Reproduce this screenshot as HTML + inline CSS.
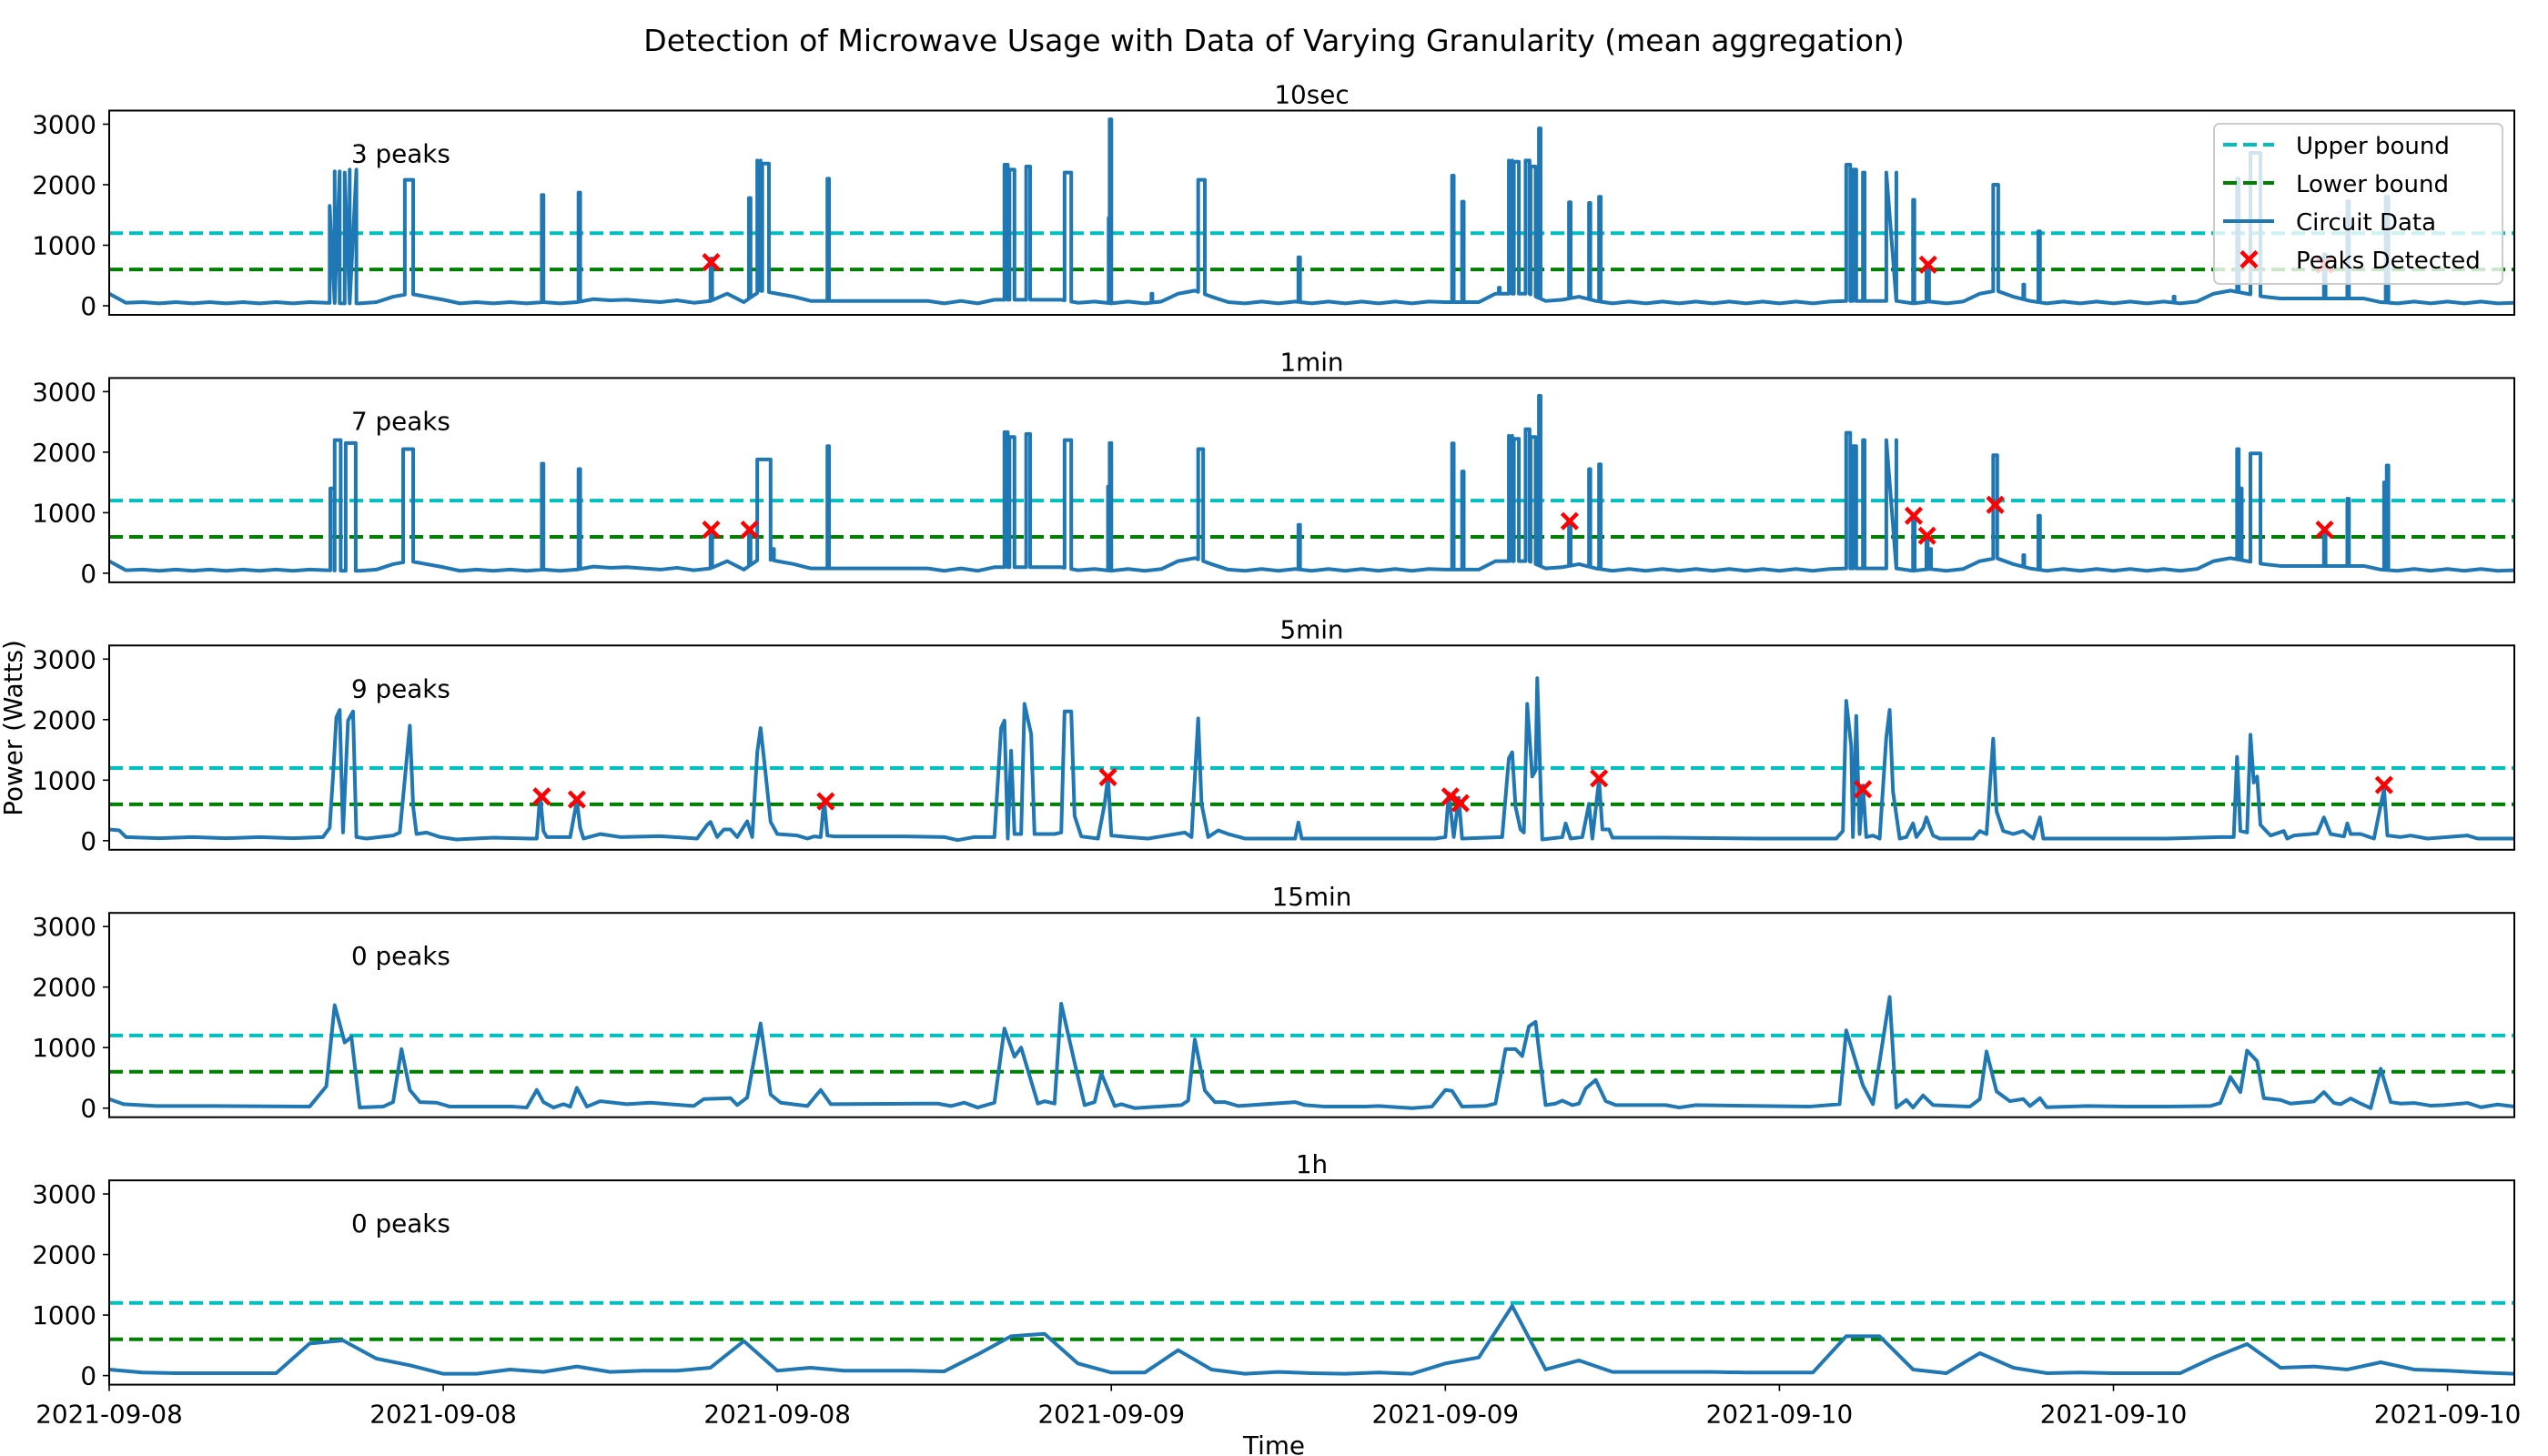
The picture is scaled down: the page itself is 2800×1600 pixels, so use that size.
<!DOCTYPE html>
<html><head><meta charset="utf-8"><style>
html,body{margin:0;padding:0;background:#fff;}
svg{display:block;font-family:"DejaVu Sans","Liberation Sans",sans-serif;}
</style></head><body>
<svg id="chart" xmlns="http://www.w3.org/2000/svg" width="2800" height="1600" viewBox="0 0 2800 1600">
<rect width="2800" height="1600" fill="#fff"/>
<text x="1400" y="56" font-size="33" text-anchor="middle">Detection of Microwave Usage with Data of Varying Granularity (mean aggregation)</text>
<text x="0" y="0" font-size="27.8" text-anchor="middle" transform="translate(24,800) rotate(-90)">Power (Watts)</text>
<text x="1400" y="1598" font-size="27.8" text-anchor="middle">Time</text>
<g id="panels"></g>
</svg>
<script>
// ---- data (time in hours from 2021-09-08 00:00, power in watts) ----
const panelTitles = ["10sec","1min","5min","15min","1h"];
const peakCounts = ["3 peaks","7 peaks","9 peaks","0 peaks","0 peaks"];
const yTicks = [0,1000,2000,3000];
const xTickHours = [0,10,20,30,40,50,60,70];
const xTickLabels = ["2021-09-08","2021-09-08","2021-09-08","2021-09-09","2021-09-09","2021-09-10","2021-09-10","2021-09-10"];
const upperBound = 1200;
const lowerBound = 600;

// baseline for fine-grained panels, sampled every 0.5 h
const baseVals = [200,50,60,40,60,40,60,40,60,40,60,40,60,50,40,40,60,150,200,150,100,40,60,40,60,40,60,40,60,110,90,100,80,60,90,50,80,200,60,250,200,150,80,80,80,80,80,80,80,80,40,80,40,100,100,100,100,100,50,70,40,70,40,70,200,250,150,60,40,70,40,70,40,70,40,70,40,70,40,70,60,60,60,200,200,200,80,100,150,80,40,70,40,70,40,70,40,70,40,70,40,70,40,70,80,80,80,80,40,70,40,70,200,250,150,80,40,70,40,70,40,70,40,70,40,70,200,250,200,150,120,120,120,120,120,120,60,40,70,40,70,40,70,40,50];

// 10sec pulses: start hour, duration hours, height watts
const p1Start = [6.6,6.75,7.05,7.2,8.85,12.95,14.05,18.0,19.15,19.4,19.55,21.5,26.8,26.95,27.45,28.6,29.92,29.95,31.2,32.6,35.6,40.2,40.5,41.6,41.9,42.05,42.4,42.55,42.8,43.7,44.3,44.6,52.0,52.2,52.5,53.2,54.0,54.4,56.4,57.3,57.75,61.8,63.7,64.1,66.3,67.0,68.15];
const p1Dur = [0.15,0.15,0.15,0.2,0.25,0.05,0.05,0.05,0.05,0.1,0.2,0.05,0.1,0.15,0.12,0.2,0.03,0.05,0.03,0.2,0.05,0.05,0.05,0.03,0.1,0.15,0.12,0.15,0.05,0.05,0.04,0.05,0.12,0.1,0.05,0.3,0.04,0.08,0.15,0.03,0.05,0.03,0.05,0.3,0.05,0.05,0.08];
const p1Val = [1650,2220,2200,2250,2080,1830,1870,780,1780,2400,2350,2100,2330,2250,2300,2200,1450,3080,200,2080,800,2150,1720,300,2400,2380,2400,2300,2930,1710,1700,1800,2330,2250,2200,2200,1750,700,2000,350,1230,150,2100,2525,850,1725,1800];
const p1PeakT = [18.02,54.45,66.32];
const p1PeakV = [720,680,680];

// 1min pulses
const p2Start = [6.62,6.75,7.08,8.8,12.95,14.05,18.0,19.15,19.4,19.8,21.5,26.8,26.95,27.45,28.6,29.9,29.95,32.6,35.6,40.2,40.5,41.9,42.05,42.4,42.55,42.8,43.7,44.3,44.6,52.0,52.2,52.5,53.2,54.0,54.4,54.5,56.4,57.3,57.75,63.7,63.8,64.1,66.3,67.0,68.1,68.18];
const p2Dur = [0.12,0.18,0.3,0.3,0.05,0.05,0.05,0.05,0.4,0.1,0.05,0.1,0.15,0.12,0.2,0.03,0.05,0.15,0.05,0.05,0.05,0.1,0.15,0.12,0.15,0.05,0.05,0.04,0.05,0.12,0.1,0.05,0.3,0.05,0.04,0.04,0.12,0.03,0.05,0.05,0.04,0.3,0.05,0.05,0.04,0.05];
const p2Val = [1400,2200,2150,2050,1810,1720,710,720,1880,400,2100,2330,2250,2300,2200,1430,2150,2050,800,2145,1680,2270,2220,2380,2250,2930,860,1720,1800,2320,2100,2200,2200,950,620,400,1950,300,950,2050,1400,1980,720,1230,1500,1780];
const p2PeakT = [18.02,19.17,43.72,54.02,54.42,56.46,66.32];
const p2PeakV = [720,720,860,950,620,1130,720];

// 5min series
const p3T = [0,0.3,0.5,1.5,2.5,3.5,4.5,5.5,6.4,6.6,6.7,6.8,6.9,7.0,7.15,7.3,7.4,7.7,8.5,8.7,9.0,9.1,9.2,9.5,9.9,10.4,11.5,12.6,12.8,12.9,13.0,13.1,13.8,14.0,14.1,14.2,14.7,15.3,16.5,17.6,17.9,18.0,18.2,18.4,18.6,18.8,19.1,19.25,19.4,19.5,19.65,19.8,20.0,20.6,20.9,21.1,21.3,21.4,21.5,21.7,23.8,25.0,25.4,25.9,26.5,26.7,26.8,26.9,27.0,27.1,27.3,27.4,27.6,27.7,28.3,28.5,28.6,28.8,28.9,29.1,29.6,29.8,29.9,30.0,30.5,31.1,32.2,32.4,32.6,32.7,32.9,33.2,33.5,34.0,35.5,35.6,35.7,36.8,39.7,40.0,40.1,40.25,40.4,40.5,41.7,41.9,42.0,42.1,42.25,42.35,42.45,42.6,42.7,42.75,42.9,43.5,43.6,43.75,44.1,44.3,44.4,44.6,44.7,44.9,45.0,46.6,49.5,51.7,51.9,52.0,52.15,52.2,52.3,52.4,52.5,52.6,52.8,53.0,53.2,53.3,53.4,53.6,53.8,54.0,54.1,54.3,54.4,54.6,54.8,55.8,56.0,56.2,56.4,56.5,56.7,57.0,57.3,57.6,57.8,57.9,59.2,61.6,63.2,63.6,63.7,63.8,64.0,64.1,64.2,64.3,64.4,64.7,65.1,65.2,65.4,66.1,66.3,66.5,66.9,67.0,67.1,67.4,67.8,68.1,68.2,68.6,68.9,69.4,70.6,70.9,72.0];
const p3V = [185,170,60,40,60,40,60,40,60,210,1060,2035,2160,135,1985,2135,60,35,85,135,1900,560,110,135,60,20,50,35,35,760,160,60,60,660,210,35,110,60,75,35,260,310,60,185,185,60,320,60,1460,1860,1110,310,110,85,35,70,60,685,85,70,70,60,10,60,60,1860,1985,35,1485,110,110,2260,1760,110,110,135,2135,2135,410,70,35,610,1060,85,60,35,135,60,2020,610,60,170,110,35,35,300,35,35,35,60,785,60,710,35,60,1360,1460,560,185,135,2260,1060,1160,2685,20,60,285,35,60,610,35,1010,185,185,50,50,35,35,160,2310,1560,60,2060,110,910,60,85,35,1710,2160,810,35,60,285,60,210,385,85,35,35,160,110,1685,485,160,110,160,35,385,35,35,35,60,60,1385,160,135,1750,960,1060,260,85,160,35,85,120,385,110,70,285,110,110,35,860,85,60,85,35,85,35,35];
const p3PeakT = [12.95,14.0,21.45,29.9,40.15,40.45,44.6,52.5,68.1];
const p3PeakV = [730,680,650,1050,730,620,1030,850,920];

// 15min series
const p4T = [0,0.43,1.4,3.1,6.0,6.5,6.75,7.05,7.25,7.5,8.2,8.5,8.75,9.0,9.3,9.8,10.2,12.1,12.5,12.8,13.0,13.3,13.6,13.8,14.0,14.3,14.7,15.5,16.2,17.5,17.8,18.6,18.8,19.1,19.5,19.8,20.1,20.9,21.3,21.6,24.8,25.2,25.6,26.0,26.5,26.8,27.1,27.3,27.8,28.0,28.3,28.5,28.9,29.2,29.5,29.7,30.1,30.3,30.7,32.1,32.3,32.5,32.8,33.1,33.4,33.8,35.5,35.8,36.4,37.6,38.0,39.0,39.6,40.0,40.2,40.5,41.2,41.5,41.8,42.1,42.3,42.5,42.7,43.0,43.3,43.5,43.8,44.0,44.2,44.5,44.8,45.1,46.6,47.0,47.5,49.5,50.9,51.8,52.0,52.5,52.8,53.3,53.5,53.8,54.0,54.3,54.6,55.7,56.0,56.2,56.5,56.9,57.3,57.5,57.8,58.0,59.2,60.4,61.6,62.9,63.2,63.5,63.8,64.0,64.3,64.5,65.0,65.3,66.0,66.3,66.6,66.8,67.1,67.4,67.7,68.0,68.3,68.6,69.0,69.5,69.9,70.6,71.0,71.5,72.0];
const p4V = [150,65,35,35,25,360,1700,1085,1175,10,25,100,975,300,100,90,25,25,10,300,100,10,65,25,335,25,115,65,90,35,150,165,50,175,1400,225,90,35,300,65,75,35,90,10,90,1315,850,1000,75,115,75,1725,750,50,100,575,35,65,0,50,125,1135,290,100,100,35,100,50,25,25,35,0,25,300,285,25,35,75,975,975,860,1350,1425,50,75,125,50,75,325,465,115,50,50,10,50,35,25,65,1285,375,65,1835,10,135,10,210,50,25,150,935,275,115,150,35,165,15,35,25,25,35,85,515,265,950,775,165,135,75,110,265,85,65,160,75,0,650,100,75,85,40,50,85,15,60,25];

// 1h series (hourly, hours 0..72)
const p5V = [100,50,40,40,40,40,530,580,280,170,30,30,100,60,150,60,80,80,130,570,80,130,80,80,80,70,350,650,690,200,50,50,420,100,30,60,40,30,50,30,200,300,1150,100,250,60,60,60,60,50,50,50,650,650,100,40,370,130,40,50,40,40,40,300,520,130,150,100,220,100,80,50,30];

// ---- layout ----
const X0 = 120, X1 = 2763, XMAX = 72;
const panelTop0 = 121.5, panelStep = 293.9, panelH = 224.5;
const YMIN = -150, YMAX = 3225;
const BLUE = "#1f77b4";
const NS = "http://www.w3.org/2000/svg";
const xs = h => X0 + (h / XMAX) * (X1 - X0);
function ysFor(top){ return v => top + panelH - (v - YMIN) / (YMAX - YMIN) * panelH; }
function mk(tag, attrs, parent){
  const e = document.createElementNS(NS, tag);
  for (const k in attrs) e.setAttribute(k, attrs[k]);
  if (parent) parent.appendChild(e);
  return e;
}
function baseAt(t){
  const i = Math.min(Math.floor(t / 0.5), baseVals.length - 2);
  const f = t / 0.5 - i;
  return baseVals[i] * (1 - f) + baseVals[i + 1] * f;
}
function pulseSeries(starts, durs, vals){
  const pts = [];
  for (let i = 0; i < baseVals.length; i++) {
    const t = i * 0.5;
    let inside = false;
    for (let j = 0; j < starts.length; j++) if (t > starts[j] && t < starts[j] + durs[j]) inside = true;
    if (!inside) pts.push({t: t, v: baseVals[i], o: 0});
  }
  for (let j = 0; j < starts.length; j++) {
    const a = starts[j], b = starts[j] + durs[j];
    pts.push({t: a, v: baseAt(a), o: 1}, {t: a, v: vals[j], o: 2}, {t: b, v: vals[j], o: 3}, {t: b, v: baseAt(b), o: 4});
  }
  pts.sort((p, q) => p.t - q.t || p.o - q.o);
  return pts;
}
function seriesFrom(ts, vs){ return ts.map((t, i) => ({t: t, v: vs[i]})); }

const root = document.getElementById("panels");
const hourT = p5V.map((_, i) => i);
const seriesList = [
  pulseSeries(p1Start, p1Dur, p1Val),
  pulseSeries(p2Start, p2Dur, p2Val),
  seriesFrom(p3T, p3V),
  seriesFrom(p4T, p4V),
  seriesFrom(hourT, p5V)
];
const peakList = [[p1PeakT, p1PeakV], [p2PeakT, p2PeakV], [p3PeakT, p3PeakV], [[], []], [[], []]];

for (let k = 0; k < 5; k++) {
  const top = panelTop0 + k * panelStep, bot = top + panelH;
  const ys = ysFor(top);
  const g = mk("g", {}, root);
  
  
  const cp = mk("clipPath", {id: "clip" + k}, g);
  mk("rect", {x: X0, y: top, width: X1 - X0, height: panelH}, cp);

  const title = mk("text", {x: (X0 + X1) / 2, y: top - 8, "font-size": 27.8, "text-anchor": "middle"}, g);
  title.textContent = panelTitles[k];
  
  

  yTicks.forEach(v => {
    const y = ys(v);
    const tk = mk("line", {x1: X0 - 7, x2: X0, y1: y, y2: y, stroke: "#000", "stroke-width": 1.6}, g);
    
    
    const lb = mk("text", {x: X0 - 14, y: y + 10, "font-size": 27.8, "text-anchor": "end"}, g);
    lb.textContent = String(v);
    
    
  });

  const clipG = mk("g", {"clip-path": "url(#clip" + k + ")"}, g);
  const ub = mk("line", {x1: X0, x2: X1, y1: ys(upperBound), y2: ys(upperBound), stroke: "#00bfbf", "stroke-width": 4, "stroke-dasharray": "15,7"}, clipG);
  
  
  const lbnd = mk("line", {x1: X0, x2: X1, y1: ys(lowerBound), y2: ys(lowerBound), stroke: "#008000", "stroke-width": 4, "stroke-dasharray": "15,7"}, clipG);
  
  

  const s = seriesList[k];
  const d = s.map((p, i) => (i ? "L" : "M") + xs(p.t).toFixed(2) + "," + ys(p.v).toFixed(2)).join("");
  const path = mk("path", {d: d, fill: "none", stroke: BLUE, "stroke-width": 4, "stroke-linejoin": "round"}, clipG);
  
  

  const [pt, pv] = peakList[k];
  pt.forEach((t, i) => {
    const cx = xs(t), cy = ys(pv[i]), r = 8.5;
    const m = mk("path", {d: `M${cx - r},${cy - r}L${cx + r},${cy + r}M${cx - r},${cy + r}L${cx + r},${cy - r}`, stroke: "#ff0000", "stroke-width": 4.5}, g);
    
    
  });

  const pk = mk("text", {x: 386, y: top + 57, "font-size": 27.8}, g);
  pk.textContent = peakCounts[k];
  
  

  const frame = mk("rect", {x: X0, y: top, width: X1 - X0, height: panelH, fill: "none", stroke: "#000", "stroke-width": 2}, g);
  
  

  if (k === 4) {
    xTickHours.forEach((h, i) => {
      const x = xs(h);
      const tk = mk("line", {x1: x, x2: x, y1: bot, y2: bot + 7, stroke: "#000", "stroke-width": 1.6}, g);
      
      
      const lb = mk("text", {x: x, y: bot + 42, "font-size": 27.8, "text-anchor": "middle"}, g);
      lb.textContent = xTickLabels[i];
      
      
    });
  }
}

// legend
const lg = mk("g", {}, root);


mk("rect", {x: 2433, y: 136, width: 317, height: 176, rx: 6, fill: "#fff", "fill-opacity": 0.8, stroke: "#cccccc", "stroke-width": 2}, lg);
const legendLabels = ["Upper bound", "Lower bound", "Circuit Data", "Peaks Detected"];
legendLabels.forEach((lbl, i) => {
  const y = 159 + i * 42;
  let sw;
  if (i === 0) sw = mk("line", {x1: 2443, x2: 2499, y1: y, y2: y, stroke: "#00bfbf", "stroke-width": 4, "stroke-dasharray": "15,7"}, lg);
  else if (i === 1) sw = mk("line", {x1: 2443, x2: 2499, y1: y, y2: y, stroke: "#008000", "stroke-width": 4, "stroke-dasharray": "15,7"}, lg);
  else if (i === 2) sw = mk("line", {x1: 2443, x2: 2499, y1: y, y2: y, stroke: BLUE, "stroke-width": 4}, lg);
  else sw = mk("path", {d: `M2463,${y - 8.5}L2480,${y + 8.5}M2463,${y + 8.5}L2480,${y - 8.5}`, stroke: "#ff0000", "stroke-width": 4.5}, lg);
  
  
  const t = mk("text", {x: 2523, y: y + 10, "font-size": 26}, lg);
  t.textContent = lbl;
  
  
});
</script>
</body></html>
